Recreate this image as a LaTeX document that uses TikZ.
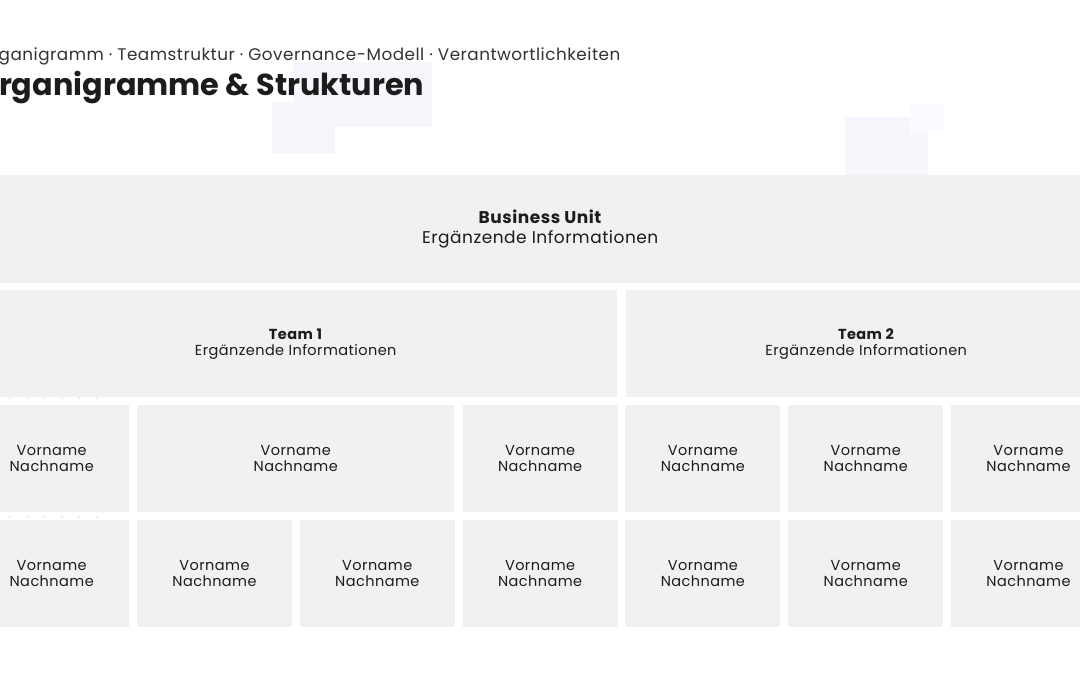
\documentclass[tikz,border=0pt]{standalone}
\usepackage{fontspec}
\setmainfont{Poppins}[LetterSpace=3]
\newfontfamily\headfont{Poppins}
\usetikzlibrary{positioning}
\definecolor{boxgray}{HTML}{F1F1F1}
\definecolor{inkdark}{HTML}{1C1C1C}
\definecolor{subgray}{HTML}{333333}
\definecolor{ghost}{HTML}{F6F7FC}
\definecolor{dotgray}{HTML}{E4E4E4}
\definecolor{dotrose}{HTML}{F3DADA}
\tikzset{
  orgbox/.style={fill=boxgray, anchor=north west, inner sep=0pt, align=center, text=inkdark},
  unitbox/.style={orgbox, minimum width=1132pt, minimum height=108pt, font=\fontsize{17}{20}\selectfont},
  teambox/.style={orgbox, minimum height=107pt, font=\fontsize{14.5}{16}\selectfont},
  person/.style={orgbox, minimum height=107pt, font=\fontsize{14.5}{16.5}\selectfont}
}

\begin{document}
\begin{tikzpicture}[x=1pt, y=-1pt]
        \useasboundingbox (0,0) rectangle (1080,675);
        \clip (0,0) rectangle (1080,675);
        \fill[white] (0,0) rectangle (1080,675);

        % faint background shapes
        \fill[ghost] (293,62) rectangle (432,127);
        \fill[ghost] (272,102) rectangle (335,153);
        \fill[ghost] (845,117) rectangle (928,175);
        \fill[ghost!80!blue!6] (910,103) rectangle (945,133);
        \foreach \i in {0,...,5} {
            \fill[dotgray] (10+17.3*\i,398) circle (1);
            \fill[dotrose] (10+17.3*\i,517) circle (1);
        }

        % Heading
        \node[anchor=base west, inner sep=0pt, text=subgray, font=\fontsize{16.8}{20}\selectfont] (subtitle) at (-22,60)
            {Organigramm · Teamstruktur · Governance-Modell · Verantwortlichkeiten};
        \node[anchor=base west, inner sep=0pt, text=inkdark, font=\headfont\fontsize{30.3}{36}\selectfont\bfseries] (title) at (-25,95)
            {Organigramme \& Strukturen};

        % Levels
        \node[unitbox] (unit) at (-26,175) {\textbf{Business Unit}\\Ergänzende Informationen};
        \node[teambox, minimum width=643pt] (team1) at (-26,290) {\textbf{Team 1}\\Ergänzende Informationen};
        \node[teambox, minimum width=480pt] (team2) at (626,290) {\textbf{Team 2}\\Ergänzende Informationen};

        % People, first row
        \node[person, minimum width=155pt] (p10) at (-26,405) {Vorname\\Nachname};
        \node[person, minimum width=317pt] (p11) at (137,405) {Vorname\\Nachname};
        \foreach \c in {3,...,6}
            \node[person, minimum width=155pt] (p1\c) at (-26+162.8*\c,405) {Vorname\\Nachname};

        % People, second row
        \foreach \c in {0,...,6}
            \node[person, minimum width=155pt] (p2\c) at (-26+162.8*\c,520) {Vorname\\Nachname};
    \end{tikzpicture}
\end{document}
